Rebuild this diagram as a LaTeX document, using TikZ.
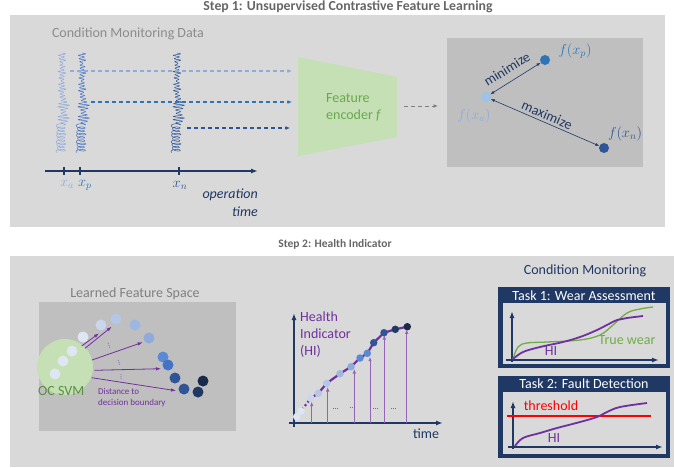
\documentclass[tikz,border=0pt]{standalone}
\usepackage{fontspec}
\setmainfont{Carlito}
\usetikzlibrary{arrows.meta}
\definecolor{panel}{HTML}{D9D9D9}
\definecolor{inbox}{HTML}{BFBFBF}
\definecolor{encg}{HTML}{C5E0B4}
\definecolor{encgt}{HTML}{6AA84F}
\definecolor{navy}{HTML}{203864}
\definecolor{lb}{HTML}{8FAADC}
\definecolor{lbt}{HTML}{9DC3E6}
\definecolor{mb}{HTML}{2E75B6}
\definecolor{db}{HTML}{2F5597}
\definecolor{pur}{HTML}{7030A0}
\definecolor{ttl}{HTML}{666666}
\definecolor{gtx}{HTML}{8C8C8C}
\definecolor{truew}{HTML}{70AD47}
\definecolor{p1}{HTML}{DEE6F4}
\definecolor{p2}{HTML}{C9D6EE}
\definecolor{p3}{HTML}{B4C7E7}
\definecolor{p4}{HTML}{9DB6E2}
\definecolor{p5}{HTML}{8FAADC}
\definecolor{p6}{HTML}{5B8AD4}
\definecolor{p7}{HTML}{4472C4}
\definecolor{p8}{HTML}{2F5597}
\definecolor{p9}{HTML}{203864}
\definecolor{p10}{HTML}{1A2A4A}
\newcommand{\wsig}[2]{\draw[#2, line width=0.5pt, line join=round] plot[domain=0:99, samples=900, variable=\t]
  ({#1 + ((\t<45)*(2.5+1*sin(61*\t)+0.8*sin(23*\t)) + (\t>=45)*(\t<72)*(4+2*sin(29*\t)) + (\t>=72)*(4+0.8*sin(41*\t)))*sin(112*\t) - (\t>=72)*1 + (\t>=45)*(\t<72)*1.5 + (\t>=72)*0.9*cos(112*\t)},
   {53+\t+(\t>=72)*1.5*cos(112*\t)});}
\begin{document}
\begin{tikzpicture}[x=1pt,y=-1pt, font=\fontsize{14}{17}\selectfont,
  steptitle/.style={font=\fontsize{13.8}{16}\selectfont\bfseries, text=ttl, inner sep=0pt},
  dot/.style={circle, inner sep=0pt, minimum size=10pt},
  hdot/.style={circle, inner sep=0pt, minimum size=7.5pt},
  sdot/.style={circle, inner sep=0pt, minimum size=11pt},
  dasharr/.style={line width=1.1pt, dash pattern=on 4pt off 3pt, -{Latex[length=4.5pt,width=4pt]}},
  dblarr/.style={navy, line width=0.6pt, {Latex[length=4pt,width=3pt]}-{Latex[length=4pt,width=3pt]}},
  purarr/.style={pur, line width=0.8pt, -{Latex[length=5pt,width=3.5pt]}},
  vline/.style={pur!75, line width=0.8pt, -{Latex[length=4.5pt,width=3.5pt]}},
  axis/.style={navy, line width=1.6pt, -{Latex[length=7pt,width=5pt]}},
  lbl/.style={inner sep=0pt}
]
\useasboundingbox (0,0) rectangle (674,467);
% panels
\fill[panel] (10,15) rectangle (665,227);
\fill[panel] (10,256) rectangle (674,467);
\node[steptitle, anchor=base] (t1) at (348,10.5) {Step 1: Unsupervised Contrastive Feature Learning};
\node[steptitle, font=\fontsize{11.5}{14}\selectfont\bfseries, anchor=base] (t2) at (335,247) {Step 2: Health Indicator};

% ---------- Step 1 ----------
\node[lbl, text=gtx] (cmd) at (128,34) {Condition Monitoring Data};
\wsig{62}{lb}
\wsig{82}{p7}
\wsig{177}{db}
% dashed arrows
\coordinate (sa) at (70,71);   \coordinate (ea) at (292,71);
\coordinate (sp) at (91,102);  \coordinate (ep) at (292,102);
\coordinate (sn) at (187,128); \coordinate (en) at (290,128);
\draw[dasharr, lb] (sa) -- (ea);
\draw[dasharr, mb] (sp) -- (ep);
\draw[dasharr, db] (sn) -- (en);
% time axis
\coordinate (ax0) at (45,171); \coordinate (ax1) at (258,171);
\draw[axis] (ax0) -- (ax1);
\draw[navy, line width=1.6pt] (64,167) -- (64,175) (80,167) -- (80,175) (179,167) -- (179,175);
\node[lbl, text=lb] (xa) at (67,184) {$x_a$};
\node[lbl, text=mb] (xp) at (85,185) {$x_p$};
\node[lbl, text=db] (xn) at (180,185) {$x_n$};
\node[lbl, text=navy, font=\fontsize{14}{17}\selectfont\itshape, anchor=east] (op) at (258,195) {operation};
\node[lbl, text=navy, font=\fontsize{14}{17}\selectfont\itshape, anchor=east] (tm) at (258,212) {time};
% encoder
\fill[encg] (298,57) -- (397,77) -- (397,137) -- (298,156) -- cycle;
\node[lbl, text=encgt, align=left, anchor=west] (enc) at (326,107) {Feature\\encoder \textit{f}};
\coordinate (g0) at (404,106); \coordinate (g1) at (438,106);
\draw[dasharr, gray, line width=0.9pt] (g0) -- (g1);
% feature space box
\fill[inbox] (447,38) rectangle (643,167);
\node[dot, fill=lbt] (fa) at (486,97) {};
\node[dot, fill=mb] (fp) at (545,60) {};
\node[dot, fill=db] (fn) at (604,148) {};
\draw[dblarr] (fa) -- (fp);
\draw[dblarr] (fa) -- (fn);
\node[lbl, text=navy, rotate=32] (mini) at (507,69) {minimize};
\node[lbl, text=navy, rotate=-23.4] (maxi) at (547,115) {maximize};
\node[lbl, text=mb] (lp) at (575,51) {$f(x_p)$};
\node[lbl, text=lb] (la) at (474,116) {$f(x_a)$};
\node[lbl, text=db] (ln) at (625,134) {$f(x_n)$};

% ---------- Step 2 ----------
\node[lbl, text=gray] (lfs) at (135,294) {Learned Feature Space};
\fill[inbox] (39,302) rectangle (236,431);
\node[circle, fill=encg, minimum size=56pt, inner sep=0pt] (svm) at (65,367) {};
\node[lbl, text=encgt!85!black, anchor=west] (ocsvm) at (38,391) {OC SVM};
\node[sdot, fill=p1] (c1) at (72,351) {};
\node[sdot, fill=p1] (c2) at (63,361) {};
\node[sdot, fill=p1] (c3) at (55,374) {};
\node[sdot, fill=p1] (d1) at (83,337) {};
\node[sdot, fill=p2] (d2) at (101,325) {};
\node[sdot, fill=p3] (d3) at (116,319) {};
\node[sdot, fill=p4] (d4) at (135,325) {};
\node[sdot, fill=p5] (d5) at (149,338) {};
\node[sdot, fill=p6] (d6) at (163,357) {};
\node[sdot, fill=p7] (d7) at (168,365) {};
\node[sdot, fill=p8] (d8) at (175,378) {};
\node[sdot, fill=p8] (d9) at (184,389) {};
\node[sdot, fill=p10] (d10) at (203,381) {};
\node[sdot, fill=p9] (d11) at (198,392) {};
\coordinate (a1s) at (81.7,346); \coordinate (a1e) at (99,333.3);
\coordinate (a2s) at (85,348.3); \coordinate (a2e) at (111.7,326.7);
\coordinate (a3s) at (92,360); \coordinate (a3e) at (142.7,342.3);
\coordinate (a4s) at (94.3,370.3); \coordinate (a4e) at (161,368.7);
\coordinate (a5s) at (91.7,377.7); \coordinate (a5e) at (176,390.7);
\draw[purarr] (a1s) -- (a1e);
\draw[purarr] (a2s) -- (a2e);
\draw[purarr] (a3s) -- (a3e);
\draw[purarr] (a4s) -- (a4e);
\draw[purarr] (a5s) -- (a5e);
\draw[pur!80, line width=0.7pt, dash pattern=on 1pt off 1pt] (108,343) -- (110,348) (118,360) -- (120,365) (121,374) -- (121,379);
\node[lbl, text=pur, font=\fontsize{9}{11}\selectfont, align=left, anchor=north west] (dist) at (98,388) {Distance to\\decision boundary};

% HI chart
\coordinate (hy0) at (294,427); \coordinate (hy1) at (294,313);
\coordinate (hx0) at (289,423); \coordinate (hx1) at (443,423);
\draw[axis] (hy0) -- (hy1);
\draw[axis] (hx0) -- (hx1);
\node[lbl, text=navy] (htime) at (426,434) {time};
\node[lbl, text=pur, align=left, anchor=north west] (hil) at (300,312) {Health\\Indicator\\(HI)};
% vertical lines
\foreach \vx/\vy [count=\i] in {311.7/401.7, 327.7/387, 354.3/369, 370/356.7, 384.3/335, 406.7/329.3}{
  \coordinate (vb\i) at (\vx,423);
  \coordinate (vt\i) at (\vx,\vy);
  \draw[vline] (vb\i) -- (vt\i);
}
\draw[pur!80, line width=0.7pt, dash pattern=on 1pt off 1pt] (333,408) -- (339,408) (350,407) -- (356,407) (373,408) -- (379,408) (391,408) -- (397,408);
% curve
\coordinate (h1) at (296.7,416.7);
\coordinate (h2) at (301,411);
\coordinate (h3) at (310.7,398.3);
\coordinate (h4) at (318.3,393.3);
\coordinate (h5) at (326.7,383.3);
\coordinate (h6) at (340,373.7);
\coordinate (h7) at (351,366.7);
\coordinate (h8) at (360,358);
\coordinate (h9) at (367.3,353.3);
\coordinate (h10) at (373.7,342.7);
\coordinate (h11) at (384,332.7);
\coordinate (h12) at (395.3,329.3);
\coordinate (h13) at (407.3,326.7);
\draw[pur, line width=2.2pt, dash pattern=on 2pt off 2.5pt] (h1) -- (h2) -- (h3) -- (h4);
\draw[pur, line width=2.2pt, line join=round] (h4) -- (h5) -- (h6) -- (h7) -- (h8) -- (h9) -- (h10) -- (h11) -- (h12) -- (h13);
\node[hdot, fill=p1] (k1) at (h1) {};
\node[hdot, fill=p1] (k2) at (h2) {};
\node[hdot, fill=p2] (k3) at (h3) {};
\node[hdot, fill=p3] (k4) at (h4) {};
\node[hdot, fill=p3] (k5) at (h5) {};
\node[hdot, fill=p4] (k6) at (h6) {};
\node[hdot, fill=p5] (k7) at (h7) {};
\node[hdot, fill=p6] (k8) at (h8) {};
\node[hdot, fill=p6] (k9) at (h9) {};
\node[hdot, fill=p8] (k10) at (h10) {};
\node[hdot, fill=p8] (k11) at (h11) {};
\node[hdot, fill=p9] (k12) at (h12) {};
\node[hdot, fill=p10] (k13) at (h13) {};

% Condition monitoring
\node[lbl, text=navy] (cmt) at (585,271) {Condition Monitoring};
% task 1
\fill[navy] (498,287) rectangle (670,368);
\fill[panel] (503,303) rectangle (666,364);
\node[lbl, text=white] (task1) at (584,295.5) {Task 1: Wear Assessment};
\coordinate (ty0) at (512,362); \coordinate (ty1) at (512,311);
\coordinate (tx0) at (506,360); \coordinate (tx1) at (659,360);
\draw[axis, line width=1.4pt] (ty0) -- (ty1);
\draw[axis, line width=1.4pt] (tx0) -- (tx1);
\draw[truew, line width=1.3pt] plot[smooth, tension=0.6] coordinates {(513,359) (518,347) (527,343) (547,342) (580,340) (600,335) (613,325) (627,313) (640,309) (653,307)};
\draw[pur, line width=1.8pt] plot[smooth, tension=0.6] coordinates {(513,359) (523,352) (540,347) (563,342) (580,337) (597,330) (617,320) (627,318) (643,316)};
\node[lbl, text=truew] (tw) at (627,340) {True wear};
\node[lbl, text=pur] (hi1) at (551,351) {HI};
% task 2
\fill[navy] (498,376) rectangle (670,458);
\fill[panel] (503,392) rectangle (666,454);
\node[lbl, text=white] (task2) at (584,384) {Task 2: Fault Detection};
\coordinate (uy0) at (513,449); \coordinate (uy1) at (513,401);
\coordinate (ux0) at (508,447); \coordinate (ux1) at (663,447);
\draw[axis, line width=1.4pt] (uy0) -- (uy1);
\draw[axis, line width=1.4pt] (ux0) -- (ux1);
\coordinate (th0) at (507,416); \coordinate (th1) at (651,416);
\draw[red, line width=1.6pt] (th0) -- (th1);
\draw[pur, line width=1.8pt] plot[smooth, tension=0.6] coordinates {(515,446) (523,438) (540,433) (557,428) (580,422) (597,417) (607,412) (620,407) (647,403)};
\node[lbl, text=red] (thr) at (551,406) {threshold};
\node[lbl, text=pur] (hi2) at (554,438) {HI};
\end{tikzpicture}
\end{document}
